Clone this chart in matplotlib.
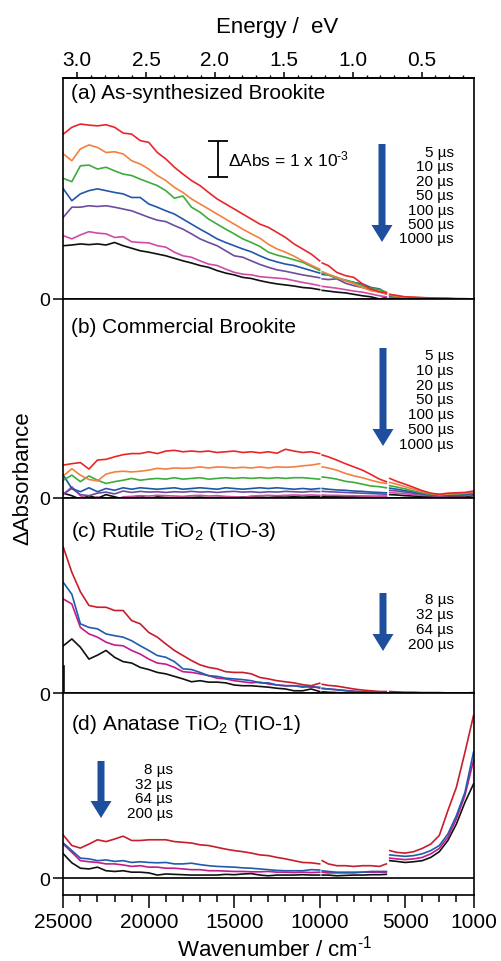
import matplotlib
matplotlib.use("Agg")
import matplotlib.pyplot as plt
import numpy as np
from matplotlib.patches import FancyArrow

plt.rcParams["font.family"] = ["Liberation Sans", "DejaVu Sans"]
plt.rcParams["mathtext.fontset"] = "custom"
plt.rcParams["mathtext.rm"] = "Liberation Sans"
plt.rcParams["mathtext.it"] = "Liberation Sans:italic"
plt.rcParams["mathtext.bf"] = "Liberation Sans:bold"
plt.rcParams["mathtext.default"] = "regular"

# wavenumber grid (cm-1): visible / near-IR / mid-IR detector segments
K1 = list(range(25000, 9999, -500))
K2 = [9850, 9500, 9000, 8500, 8000, 7500, 7000, 6500, 6100]
K3 = [5900, 5500, 5000, 4500, 4000, 3500, 3000, 2500, 2000, 1500, 1000]
WAVENUMBER = np.array(K1 + K2 + K3, dtype=float)
SPLIT = [len(K1), len(K1) + len(K2)]

# transient absorbance, units of 1e-3
# (a) as-synthesized brookite: 5, 10, 20, 50, 100, 500, 1000 us
a_5us = [4.58, 4.77, 4.86, 4.83, 4.81, 4.84, 4.77, 4.61, 4.58, 4.40, 4.35, 4.07, 3.89, 3.66, 3.47, 3.29,
         3.15, 2.96, 2.78, 2.64, 2.50, 2.36, 2.22, 2.08, 1.99, 1.85, 1.71, 1.53, 1.39, 1.25, 1.06,
         1.00, 0.93, 0.74, 0.65, 0.60, 0.42, 0.28, 0.20, 0.17,
         0.13, 0.10, 0.06, 0.05, 0.04, 0.03, 0.02, 0.02, 0.01, 0.01, 0.00]
a_10us = [4.03, 3.84, 4.17, 4.28, 4.21, 4.07, 4.09, 4.03, 3.84, 3.75, 3.61, 3.43, 3.29, 3.10, 2.96, 2.78,
          2.64, 2.50, 2.36, 2.22, 2.08, 1.94, 1.81, 1.69, 1.52, 1.39, 1.30, 1.19, 1.06, 0.94, 0.83,
          0.76, 0.69, 0.60, 0.51, 0.42, 0.32, 0.23, 0.19, 0.14,
          0.11, 0.08, 0.05, 0.04, 0.03, 0.02, 0.02, 0.01, 0.01, 0.00, 0.00]
a_20us = [3.35, 3.26, 3.70, 3.72, 3.61, 3.66, 3.56, 3.47, 3.43, 3.33, 3.24, 3.15, 3.01, 2.80, 2.86, 2.55,
          2.41, 2.22, 2.08, 1.94, 1.81, 1.67, 1.57, 1.46, 1.30, 1.22, 1.16, 1.09, 1.02, 0.91, 0.79,
          0.72, 0.67, 0.57, 0.53, 0.46, 0.37, 0.30, 0.26, 0.19,
          0.10, 0.07, 0.05, 0.04, 0.03, 0.02, 0.02, 0.01, 0.00, 0.00, 0.00]
a_50us = [3.06, 2.73, 2.92, 3.01, 3.06, 3.01, 2.96, 2.92, 2.82, 2.82, 2.64, 2.55, 2.45, 2.36, 2.22, 2.08,
          1.94, 1.81, 1.67, 1.57, 1.48, 1.39, 1.31, 1.20, 1.10, 1.03, 0.97, 0.93, 0.86, 0.79, 0.72,
          0.68, 0.67, 0.60, 0.51, 0.46, 0.42, 0.32, 0.28, 0.17,
          0.10, 0.07, 0.05, 0.03, 0.02, 0.02, 0.01, 0.01, 0.00, 0.00, -0.01]
a_100us = [2.27, 2.55, 2.55, 2.59, 2.57, 2.59, 2.55, 2.50, 2.45, 2.36, 2.27, 2.19, 2.15, 2.04, 1.94, 1.81,
           1.67, 1.57, 1.48, 1.34, 1.20, 1.16, 1.06, 0.96, 0.88, 0.81, 0.77, 0.72, 0.67, 0.63, 0.59,
           0.56, 0.54, 0.56, 0.44, 0.37, 0.32, 0.26, 0.20, 0.14,
           0.08, 0.06, 0.04, 0.03, 0.02, 0.01, 0.01, 0.00, 0.00, 0.00, 0.00]
a_500us = [1.76, 1.67, 1.78, 1.87, 1.83, 1.81, 1.71, 1.73, 1.59, 1.57, 1.56, 1.48, 1.44, 1.30, 1.20, 1.16,
           1.06, 0.97, 0.93, 0.83, 0.74, 0.69, 0.67, 0.62, 0.60, 0.58, 0.56, 0.51, 0.46, 0.42, 0.37,
           0.35, 0.33, 0.30, 0.26, 0.22, 0.19, 0.14, 0.09, 0.06,
           0.05, 0.04, 0.03, 0.02, 0.01, 0.01, 0.00, 0.00, -0.01, 0.00, 0.00]
a_1000us = [1.48, 1.50, 1.53, 1.51, 1.53, 1.50, 1.57, 1.48, 1.41, 1.34, 1.30, 1.25, 1.20, 1.13, 1.06, 1.00,
            0.93, 0.88, 0.79, 0.72, 0.67, 0.60, 0.57, 0.51, 0.46, 0.42, 0.39, 0.36, 0.32, 0.30, 0.26,
            0.24, 0.22, 0.19, 0.17, 0.13, 0.09, 0.06, 0.00, 0.04,
            0.03, 0.02, 0.02, 0.01, 0.01, 0.00, 0.00, 0.00, 0.00, 0.00, 0.00]

# (b) commercial brookite: same delays
b_5us = [0.90, 0.94, 0.97, 0.79, 1.04, 1.06, 1.13, 1.19, 1.22, 1.22, 1.27, 1.22, 1.29, 1.31, 1.27, 1.29,
         1.27, 1.29, 1.25, 1.27, 1.29, 1.25, 1.27, 1.24, 1.27, 1.23, 1.34, 1.29, 1.25, 1.27, 1.22,
         1.18, 1.13, 1.04, 0.94, 0.85, 0.76, 0.64, 0.51, 0.44,
         0.53, 0.45, 0.37, 0.28, 0.19, 0.12, 0.09, 0.12, 0.13, 0.14, 0.18]
b_10us = [0.60, 0.80, 0.62, 0.50, 0.46, 0.65, 0.71, 0.73, 0.71, 0.73, 0.76, 0.81, 0.79, 0.82, 0.81, 0.82,
          0.85, 0.82, 0.85, 0.84, 0.82, 0.84, 0.82, 0.85, 0.82, 0.85, 0.84, 0.85, 0.88, 0.90, 0.94,
          0.85, 0.82, 0.76, 0.67, 0.60, 0.55, 0.48, 0.42, 0.39,
          0.42, 0.37, 0.30, 0.23, 0.16, 0.11, 0.08, 0.10, 0.11, 0.12, 0.16]
b_20us = [0.48, 0.62, 0.44, 0.60, 0.48, 0.39, 0.44, 0.48, 0.53, 0.48, 0.51, 0.53, 0.51, 0.55, 0.51, 0.53,
          0.55, 0.51, 0.53, 0.55, 0.53, 0.55, 0.53, 0.55, 0.53, 0.55, 0.53, 0.55, 0.55, 0.53, 0.51,
          0.57, 0.55, 0.51, 0.45, 0.42, 0.37, 0.32, 0.30, 0.27,
          0.33, 0.29, 0.24, 0.18, 0.13, 0.09, 0.07, 0.09, 0.10, 0.11, 0.14]
b_50us = [0.62, 0.25, 0.16, 0.27, 0.16, 0.25, 0.20, 0.27, 0.23, 0.27, 0.25, 0.23, 0.25, 0.27, 0.23, 0.25,
          0.27, 0.25, 0.23, 0.27, 0.25, 0.23, 0.25, 0.27, 0.25, 0.27, 0.25, 0.23, 0.25, 0.23, 0.25,
          0.25, 0.23, 0.21, 0.20, 0.18, 0.17, 0.15, 0.14, 0.13,
          0.26, 0.23, 0.19, 0.15, 0.11, 0.08, 0.06, 0.08, 0.08, 0.09, 0.12]
b_100us = [0.10, 0.25, 0.08, 0.05, 0.12, 0.15, 0.10, 0.18, 0.14, 0.17, 0.15, 0.16, 0.14, 0.16, 0.15, 0.17,
           0.15, 0.16, 0.14, 0.16, 0.17, 0.15, 0.16, 0.14, 0.16, 0.15, 0.17, 0.16, 0.15, 0.17, 0.16,
           0.17, 0.16, 0.15, 0.14, 0.13, 0.12, 0.11, 0.10, 0.09,
           0.20, 0.18, 0.15, 0.12, 0.09, 0.07, 0.05, 0.06, 0.07, 0.07, 0.10]
b_500us = [0.08, 0.30, 0.05, -0.05, 0.02, -0.15, -0.08, 0.02, 0.03, 0.05, 0.04, 0.06, 0.05, 0.04, 0.03, 0.05,
           0.06, 0.04, 0.05, 0.03, 0.02, 0.00, 0.04, 0.05, 0.06, 0.05, 0.06, 0.07, 0.06, 0.07, 0.06,
           0.07, 0.06, 0.06, 0.05, 0.05, 0.04, 0.04, 0.03, 0.03,
           0.14, 0.12, 0.10, 0.08, 0.06, 0.05, 0.04, 0.05, 0.05, 0.05, 0.08]
b_1000us = [0.12, 0.05, -0.05, 0.05, -0.02, 0.08, 0.02, -0.04, 0.00, 0.05, -0.03, 0.02, 0.00, -0.02, 0.01, 0.00,
            0.01, -0.01, 0.00, 0.01, 0.00, 0.01, 0.02, 0.01, 0.00, 0.02, 0.01, 0.02, 0.01, 0.02, 0.03,
            0.03, 0.02, 0.03, 0.03, 0.02, 0.03, 0.02, 0.03, 0.03,
            0.08, 0.07, 0.05, 0.04, 0.03, 0.02, 0.02, 0.02, 0.02, 0.03, 0.05]

# (c) rutile TIO-3: 8, 32, 64, 200 us
c_8us = [4.06, 3.36, 2.82, 2.44, 2.39, 2.39, 2.30, 2.30, 2.02, 1.93, 1.69, 1.56, 1.37, 1.19, 1.05, 0.91,
         0.79, 0.72, 0.68, 0.60, 0.58, 0.58, 0.54, 0.44, 0.40, 0.35, 0.32, 0.29, 0.24, 0.21, 0.28,
         0.25, 0.22, 0.20, 0.16, 0.12, 0.09, 0.07, 0.05, 0.05,
         0.05, 0.04, 0.03, 0.03, 0.02, 0.02, 0.02, 0.01, 0.01, 0.01, 0.02]
c_32us = [3.08, 2.75, 1.93, 1.83, 1.79, 1.65, 1.60, 1.56, 1.46, 1.32, 1.19, 1.05, 1.00, 0.88, 0.68, 0.66,
          0.58, 0.49, 0.47, 0.42, 0.40, 0.38, 0.35, 0.29, 0.29, 0.23, 0.21, 0.21, 0.19, 0.17, 0.17,
          0.14, 0.12, 0.10, 0.07, 0.05, 0.04, 0.03, 0.02, 0.02,
          0.02, 0.01, 0.01, 0.01, 0.01, 0.00, 0.00, 0.00, 0.00, 0.00, 0.01]
c_64us = [2.62, 2.48, 1.83, 1.65, 1.56, 1.42, 1.34, 1.32, 1.19, 1.09, 0.95, 0.84, 0.81, 0.72, 0.60, 0.58,
          0.54, 0.49, 0.42, 0.40, 0.35, 0.32, 0.29, 0.31, 0.26, 0.23, 0.21, 0.21, 0.17, 0.21, 0.14,
          0.13, 0.12, 0.10, 0.08, 0.06, 0.04, 0.03, 0.02, 0.02,
          0.02, 0.01, 0.01, 0.01, 0.00, 0.00, 0.00, 0.00, 0.00, 0.00, 0.01]
c_200us = [1.32, 1.51, 1.28, 0.95, 1.06, 1.19, 1.00, 0.88, 0.84, 0.72, 0.66, 0.58, 0.54, 0.47, 0.40, 0.32,
           0.35, 0.31, 0.31, 0.29, 0.23, 0.21, 0.21, 0.19, 0.17, 0.14, 0.12, 0.07, 0.07, 0.12, 0.05,
           0.04, 0.03, 0.02, 0.01, 0.00, 0.02, 0.00, 0.01, 0.01,
           0.01, 0.00, 0.00, 0.00, 0.00, 0.00, 0.00, 0.00, 0.00, 0.00, 0.00]
c_200us_edge = [0.00, 0.75]

# (d) anatase TIO-1: 8, 32, 64, 200 us
d_8us = [1.20, 0.91, 0.84, 0.95, 1.07, 1.02, 1.09, 1.17, 1.05, 1.05, 1.07, 1.07, 1.07, 1.02, 1.00, 0.98,
         0.93, 0.91, 0.86, 0.81, 0.77, 0.74, 0.70, 0.65, 0.63, 0.58, 0.54, 0.49, 0.44, 0.43, 0.40,
         0.49, 0.40, 0.35, 0.35, 0.33, 0.35, 0.35, 0.33, 0.40,
         0.77, 0.72, 0.70, 0.74, 0.83, 0.95, 1.19, 1.88, 2.53, 3.50, 4.52]
d_32us = [0.98, 0.77, 0.56, 0.54, 0.49, 0.51, 0.47, 0.49, 0.44, 0.46, 0.44, 0.43, 0.44, 0.40, 0.40, 0.42,
          0.38, 0.35, 0.33, 0.32, 0.31, 0.29, 0.28, 0.26, 0.24, 0.22, 0.21, 0.21, 0.21, 0.24, 0.23,
          0.21, 0.19, 0.17, 0.17, 0.17, 0.17, 0.19, 0.19, 0.19,
          0.65, 0.63, 0.61, 0.63, 0.68, 0.77, 0.91, 1.23, 1.74, 2.39, 3.50]
d_64us = [0.95, 0.72, 0.49, 0.46, 0.44, 0.40, 0.40, 0.37, 0.33, 0.35, 0.31, 0.31, 0.28, 0.28, 0.26, 0.24,
          0.24, 0.21, 0.21, 0.20, 0.19, 0.19, 0.18, 0.18, 0.19, 0.17, 0.17, 0.16, 0.17, 0.16, 0.17,
          0.17, 0.15, 0.15, 0.15, 0.15, 0.17, 0.17, 0.17, 0.17,
          0.56, 0.54, 0.52, 0.54, 0.58, 0.68, 0.83, 1.14, 1.65, 2.30, 3.27]
d_200us = [0.68, 0.43, 0.28, 0.26, 0.31, 0.21, 0.19, 0.21, 0.17, 0.17, 0.15, 0.09, 0.12, 0.11, 0.10, 0.09,
           0.09, 0.09, 0.09, 0.11, 0.10, 0.12, 0.13, 0.09, 0.07, 0.09, 0.09, 0.09, 0.10, 0.09, 0.09,
           0.09, 0.09, 0.07, 0.08, 0.09, 0.09, 0.10, 0.10, 0.11,
           0.49, 0.47, 0.44, 0.46, 0.49, 0.58, 0.74, 1.05, 1.51, 2.11, 2.62]

BROOKITE_DELAYS = ["5 µs", "10 µs", "20 µs", "50 µs", "100 µs", "500 µs", "1000 µs"]
TIO2_DELAYS = ["8 µs", "32 µs", "64 µs", "200 µs"]
BROOKITE_COLORS = ["#e8262a", "#f4803f", "#3eab3c", "#2157a8", "#6a4d9f", "#cf4ba6", "#111111"]
TIO2_COLORS = ["#c81d2b", "#1f5cab", "#c51a8c", "#111111"]
ARROW_BLUE = "#1e4f9f"

W, H = 501, 962
fig = plt.figure(figsize=(W / 100, H / 100), dpi=100)

# panel boxes in pixels: (top, bottom, ymin); 36 px per 1e-3
LEFT, RIGHT = 63.3, 473.5
PX_PER_UNIT = 36.0
boxes = [(79.0, 300.0, 0.0), (300.0, 498.5, 0.0), (498.5, 694.3, 0.0), (694.3, 896.0, -16.7 / PX_PER_UNIT)]

axes = []
for top, bottom, ymin in boxes:
    ax = fig.add_axes([LEFT / W, 1 - bottom / H, (RIGHT - LEFT) / W, (bottom - top) / H])
    ax.set_xlim(25000, 1000)
    ax.set_ylim(ymin, ymin + (bottom - top) / PX_PER_UNIT)
    ax.set_yticks([0])
    ax.set_yticklabels(["0"], fontsize=14)
    ax.tick_params(axis="y", direction="out", length=7.5, width=1.1, pad=2)
    ax.set_xticks([])
    for s in ax.spines.values():
        s.set_linewidth(1.2)
    axes.append(ax)
ax_a, ax_b, ax_c, ax_d = axes


def draw(ax, values, color):
    for kk, vv in zip(np.split(WAVENUMBER, SPLIT), np.split(np.array(values, dtype=float), SPLIT)):
        ax.plot(kk, vv, color=color, lw=1.2, solid_joinstyle="round")


for vals, col in zip([a_5us, a_10us, a_20us, a_50us, a_100us, a_500us, a_1000us][::-1], BROOKITE_COLORS[::-1]):
    draw(ax_a, vals, col)
for vals, col in zip([b_5us, b_10us, b_20us, b_50us, b_100us, b_500us, b_1000us][::-1], BROOKITE_COLORS[::-1]):
    draw(ax_b, vals, col)
for vals, col in zip([c_8us, c_32us, c_64us, c_200us][::-1], TIO2_COLORS[::-1]):
    draw(ax_c, vals, col)
ax_c.plot([24980, 24980], c_200us_edge, color=TIO2_COLORS[-1], lw=1.2)
for vals, col in zip([d_8us, d_32us, d_64us, d_200us][::-1], TIO2_COLORS[::-1]):
    draw(ax_d, vals, col)
ax_d.axhline(0, color="black", lw=1.2)

# bottom wavenumber axis
ax_d.set_xticks([25000, 20000, 15000, 10000, 5000, 1000])
ax_d.set_xticklabels(["25000", "20000", "15000", "10000", "5000", "1000"], fontsize=15)
ax_d.set_xticks(list(range(24000, 1000, -1000)), minor=True)
ax_d.tick_params(axis="x", which="major", direction="out", length=9, width=1.1, pad=3)
ax_d.tick_params(axis="x", which="minor", direction="out", length=5, width=1.1)

# top energy axis
CM_PER_EV = 8065.54
sec = ax_a.secondary_xaxis("top", functions=(lambda k: k / CM_PER_EV, lambda e: e * CM_PER_EV))
sec.set_xticks([3.0, 2.5, 2.0, 1.5, 1.0, 0.5])
sec.set_xticklabels(["3.0", "2.5", "2.0", "1.5", "1.0", "0.5"], fontsize=15)
sec.set_xticks(np.round(np.arange(0.2, 3.15, 0.1), 1), minor=True)
sec.tick_params(which="major", direction="out", length=4.5, width=1.1, pad=2)
sec.tick_params(which="minor", direction="out", length=2.5, width=1.0)
sec.spines["top"].set_linewidth(1.2)

# scale bar: 1e-3 in panel (a) units
ax_a.errorbar([15940], [3.89], yerr=[0.5], color="black", lw=1.3, capsize=7.5, capthick=1.3)

# overlay in pixel coordinates for labels and arrows
ov = fig.add_axes([0, 0, 1, 1], zorder=10)
ov.set_xlim(0, W)
ov.set_ylim(H, 0)
ov.axis("off")

# superscripts use a hyphen, not a minus sign
ov.text(228, 166, "ΔAbs = 1 x 10$^{\u2010 3}$", fontsize=12.5, va="baseline")
ov.text(277, 33, "Energy /  eV", fontsize=16, ha="center", va="baseline")
ov.text(275, 957, "Wavenumber / cm$^{\u2010 1}$", fontsize=16, ha="center", va="baseline")
ov.text(23, 478, "ΔAbsorbance", fontsize=16, ha="center", va="center", rotation=90)

titles = [("(a) As-synthesized Brookite", 99), ("(b) Commercial Brookite", 333),
          ("(c) Rutile TiO$_2$ (TIO-3)", 537), ("(d) Anatase TiO$_2$ (TIO-1)", 730)]
for txt, base in titles:
    ov.text(71, base, txt, fontsize=15, va="baseline")

# delay lists: (labels, right edge x, first baseline, spacing)
legends = [(BROOKITE_DELAYS, 454, 157, 14.4), (BROOKITE_DELAYS, 454, 360, 14.8),
           (TIO2_DELAYS, 454, 604, 15.0), (TIO2_DELAYS, 173, 774, 14.6)]
for labels, xr, y0, dy in legends:
    for i, lab in enumerate(labels):
        ov.text(xr, y0 + i * dy, lab, fontsize=11, ha="right", va="baseline")

# decay arrows: (x, tail y, tip y)
for x, y0, y1 in [(382, 145, 243), (383, 349, 447), (383, 594, 652), (101, 762, 819)]:
    ov.add_patch(FancyArrow(x, y0, 0, y1 - y0, width=7, head_width=21, head_length=17,
                            length_includes_head=True, color=ARROW_BLUE, lw=0))

fig.savefig("out.png", dpi=100)
